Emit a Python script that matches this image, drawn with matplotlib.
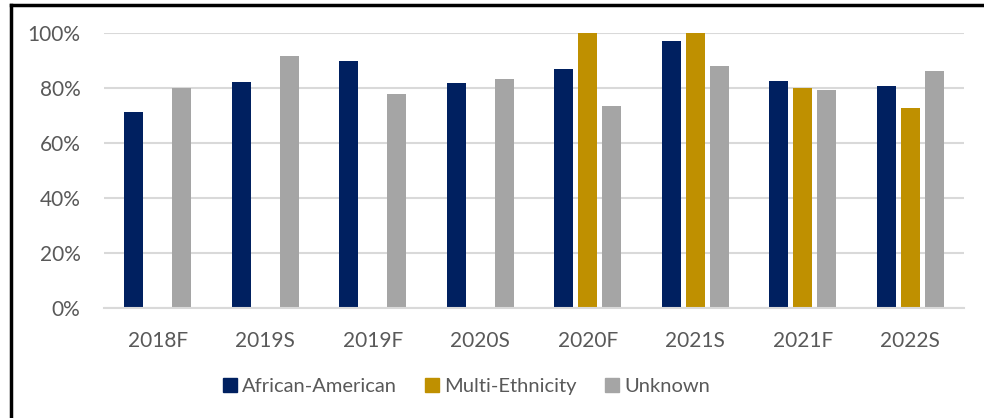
from matplotlib import pyplot as plt
from matplotlib.lines import Line2D
import numpy as np

terms = ['2018F', '2019S', '2019F', '2020S', '2020F', '2021S', '2021F', '2022S']
africanAmerican = [0.713, 0.822, 0.898, 0.818, 0.869, 0.971, 0.826, 0.807]
multiEthnicity = [np.nan, np.nan, np.nan, np.nan, 1.0, 1.0, 0.80, 0.727]
unknown = [0.80, 0.916, 0.778, 0.833, 0.735, 0.88, 0.793, 0.862]

seriesNames = ['African-American', 'Multi-Ethnicity', 'Unknown']
colors = ['#002060', '#BF9000', '#A5A5A5']
textColor = '#595959'

plt.rcParams['font.family'] = ['Lato', 'DejaVu Sans']

fig = plt.figure(figsize=(9.84, 4.18), dpi=100)
ax = fig.add_axes([104/984, 1-307.7/418, 860/984, 275/418])

x = np.arange(len(terms))
width = 0.175
step = 0.223
for i, (vals, col) in enumerate(zip([africanAmerican, multiEthnicity, unknown], colors)):
    ax.bar(x + (i-1)*step, vals, width=width, color=col, label=seriesNames[i], zorder=3)

ax.set_xlim(-0.5, len(terms)-0.5)
ax.set_ylim(0, 1.0)
ax.set_yticks(np.arange(0, 1.01, 0.2))
ax.set_yticklabels(['%d%%' % round(v*100) for v in np.arange(0, 1.01, 0.2)])
ax.set_xticks(x)
ax.set_xticklabels(terms)
ax.tick_params(axis='both', length=0, labelsize=15, labelcolor=textColor)
ax.tick_params(axis='x', pad=17)
ax.tick_params(axis='y', pad=17)
ax.yaxis.grid(True, color='#D9D9D9', linewidth=1.5, zorder=0)
ax.set_axisbelow(True)
for s in ['top', 'right', 'left']:
    ax.spines[s].set_visible(False)
ax.spines['bottom'].set_color('#D9D9D9')
ax.spines['bottom'].set_linewidth(1.5)
ax.spines['bottom'].set_zorder(4)

handles = [Line2D([], [], marker='s', linestyle='none', markersize=9.5,
                  markerfacecolor=c, markeredgecolor=c) for c in colors]
fig.legend(handles, seriesNames, loc='center', bbox_to_anchor=(465/984, 1-386/418),
           ncol=3, frameon=False, fontsize=14.5, labelcolor=textColor,
           handletextpad=0.1, columnspacing=1.25, handlelength=1.0)

# chart border (left and top edges visible in the crop)
fig.add_artist(Line2D([11/984, 11/984], [0, 1-5/418], color='black', linewidth=2.5,
                      transform=fig.transFigure))
fig.add_artist(Line2D([11/984, 1], [1-5/418, 1-5/418], color='black', linewidth=2.5,
                      transform=fig.transFigure))

fig.savefig('out.png', dpi=100)
